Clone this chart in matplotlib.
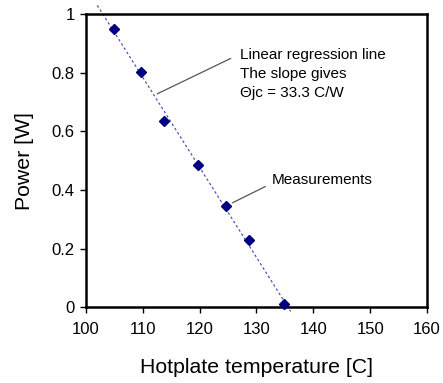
import numpy as np
import matplotlib.pyplot as plt

plt.rcParams['font.family'] = ['Liberation Sans', 'DejaVu Sans']

temp = [105.0, 109.6, 113.7, 119.7, 124.7, 128.6, 134.8]
power = [0.95, 0.803, 0.636, 0.485, 0.344, 0.230, 0.011]
xticks = [100, 110, 120, 130, 140, 150, 160]
yticks = [0, 0.2, 0.4, 0.6, 0.8, 1]

# regression line
k, b = np.polyfit(temp, power, 1)
tl = np.array([102.0, 136.0])

fig = plt.figure(figsize=(4.43, 3.83), dpi=100)
ax = fig.add_axes([0.194, 0.198, 0.770, 0.765])

ax.plot(tl, k * tl + b, linestyle=(0, (2, 2)), color='#5050c8', lw=0.9, clip_on=False)
ax.plot(temp, power, linestyle='none', marker='D', ms=5.3, color='#000080', clip_on=False, zorder=3)

ax.set_xlim(100, 160)
ax.set_ylim(0, 1)
ax.set_xticks(xticks)
ax.set_yticks(yticks)
ax.set_yticklabels(['%g' % v for v in yticks])
ax.tick_params(direction='out', length=4, width=1, labelsize=12, pad=4)
ax.tick_params(axis='x', pad=7)
for s in ax.spines.values():
    s.set_linewidth(1.8)

ax.set_xlabel('Hotplate temperature [C]', fontsize=15.3, labelpad=15)
ax.set_ylabel('Power [W]', fontsize=15.3, labelpad=13)

# leader lines and notes
ax.annotate('', xy=(112.1, 0.724), xytext=(125.9, 0.853),
            arrowprops=dict(arrowstyle='-', color='#555555', lw=0.9))
ax.text(127.1, 0.797, 'Linear regression line\nThe slope gives\n\u0398jc = 33.3 C/W',
        fontsize=11, va='center', ha='left', linespacing=1.45)
ax.annotate('', xy=(125.34, 0.352), xytext=(132.0, 0.416),
            arrowprops=dict(arrowstyle='-', color='#555555', lw=0.9))
ax.text(132.7, 0.435, 'Measurements', fontsize=11, va='center', ha='left')

fig.savefig('out.png', dpi=100)
